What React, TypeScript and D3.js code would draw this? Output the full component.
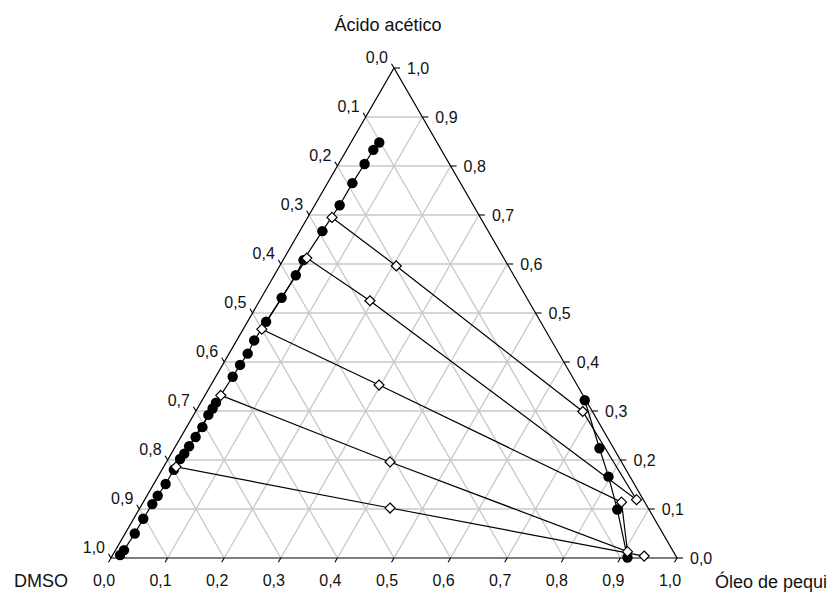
import React, { useEffect, useRef } from 'react'
import * as d3 from 'd3'

// ternary coordinates: oleo (bottom axis), acido (right axis), dmso = 1 - oleo - acido
const binodalLeftOleo = [0.050, 0.047, 0.046, 0.044, 0.044, 0.040, 0.036, 0.038, 0.036, 0.033, 0.031, 0.033, 0.031, 0.030, 0.027, 0.027, 0.026, 0.028, 0.026, 0.024, 0.023, 0.021, 0.021, 0.021, 0.019, 0.018, 0.017, 0.017, 0.015, 0.013]
const binodalLeftAcido = [0.848, 0.833, 0.804, 0.765, 0.720, 0.667, 0.608, 0.577, 0.531, 0.482, 0.444, 0.417, 0.394, 0.370, 0.317, 0.305, 0.292, 0.267, 0.247, 0.228, 0.213, 0.202, 0.180, 0.151, 0.127, 0.110, 0.080, 0.050, 0.016, 0.006]

const binodalRightOleo = [0.676, 0.751, 0.796, 0.845, 0.912]
const binodalRightAcido = [0.322, 0.224, 0.166, 0.099, 0.001]

// tie lines: DMSO-rich end, feed point, oil-rich end
const tieLeftOleo = [0.043, 0.040, 0.033, 0.028, 0.022]
const tieLeftAcido = [0.695, 0.612, 0.467, 0.332, 0.186]
const tieFeedOleo = [0.206, 0.195, 0.297, 0.395, 0.442]
const tieFeedAcido = [0.596, 0.525, 0.353, 0.196, 0.102]
const tieRightOleo = [0.684, 0.869, 0.845, 0.906, 0.940]
const tieRightAcido = [0.299, 0.119, 0.114, 0.013, 0.004]

const tickValues = [0, 0.1, 0.2, 0.3, 0.4, 0.5, 0.6, 0.7, 0.8, 0.9, 1.0]
const tickLabels = ['0,0', '0,1', '0,2', '0,3', '0,4', '0,5', '0,6', '0,7', '0,8', '0,9', '1,0']

const FONT = '"Liberation Sans", Arial, sans-serif'

export default function App() {
  const ref = useRef<SVGSVGElement>(null)

  useEffect(() => {
    const svg = d3.select(ref.current)
    svg.selectAll('*').remove()

    const x = d3.scaleLinear().domain([0, 1]).range([111, 677])
    const y = d3.scaleLinear().domain([0, 1]).range([558, 68])
    const project = (o: number, a: number): [number, number] => [x(o + a / 2), y(a)]
    const line = d3.line<[number, number]>()

    // grid
    const grid = svg.append('g').attr('stroke', '#c8c8c8').attr('stroke-width', 1.3).attr('fill', 'none')
    tickValues.slice(1, -1).forEach(v => {
      grid.append('path').attr('d', line([project(v, 0), project(v, 1 - v)]))
      grid.append('path').attr('d', line([project(0, v), project(1 - v, v)]))
      grid.append('path').attr('d', line([project(1 - v, 0), project(0, 1 - v)]))
    })

    // triangle
    svg.append('path')
      .attr('d', line([project(0, 0), project(1, 0), project(0, 1)]) + 'Z')
      .attr('fill', 'none').attr('stroke', '#000').attr('stroke-width', 1.2)

    // ticks + labels
    const axes = svg.append('g').attr('stroke', '#000').attr('stroke-width', 1.1)
    const labels = svg.append('g').attr('font-family', FONT).attr('font-size', 16).attr('fill', '#111')
    tickValues.forEach((v, i) => {
      // bottom axis (oleo)
      const [bx, by] = project(v, 0)
      axes.append('line').attr('x1', bx).attr('y1', by).attr('x2', bx - 2.5).attr('y2', by + 4.3)
      labels.append('text').attr('x', bx - 7).attr('y', 580).attr('dy', '0.35em')
        .attr('text-anchor', 'middle').text(tickLabels[i])
      // right axis (acido)
      const [rx, ry] = project(1 - v, v)
      axes.append('line').attr('x1', rx).attr('y1', ry).attr('x2', rx + 6).attr('y2', ry)
      labels.append('text').attr('x', rx + 13).attr('y', ry).attr('dy', '0.35em')
        .attr('text-anchor', 'start').text(tickLabels[i])
      // left axis (dmso, 0 at top)
      const [lx, ly] = project(0, 1 - v)
      axes.append('line').attr('x1', lx).attr('y1', ly).attr('x2', lx - 2.5).attr('y2', ly - 4.3)
      labels.append('text').attr('x', lx - 6).attr('y', ly - 11).attr('dy', '0.35em')
        .attr('text-anchor', 'end').text(tickLabels[i])
    })

    // binodal curve
    const leftPts = binodalLeftOleo.map((o, i) => project(o, binodalLeftAcido[i]))
    const rightPts = binodalRightOleo.map((o, i) => project(o, binodalRightAcido[i]))
    svg.append('path').attr('d', line(leftPts)).attr('fill', 'none').attr('stroke', '#000').attr('stroke-width', 1.2)
    svg.append('path').attr('d', line(rightPts)).attr('fill', 'none').attr('stroke', '#000').attr('stroke-width', 1.2)

    // tie lines as one series (zig-zag order)
    const tiePts: [number, number][] = []
    tieLeftOleo.forEach((_, i) => {
      const seg = [
        project(tieLeftOleo[i], tieLeftAcido[i]),
        project(tieFeedOleo[i], tieFeedAcido[i]),
        project(tieRightOleo[i], tieRightAcido[i]),
      ]
      if (i % 2 === 1) seg.reverse()
      tiePts.push(...seg)
    })
    svg.append('path').attr('d', line(tiePts)).attr('fill', 'none').attr('stroke', '#000').attr('stroke-width', 1.2)

    // black dots
    svg.append('g').selectAll('circle')
      .data([...leftPts, ...rightPts])
      .join('circle')
      .attr('cx', d => d[0]).attr('cy', d => d[1]).attr('r', 5.2).attr('fill', '#000')

    // open diamonds
    const diamond = d3.symbol().type(d3.symbolDiamond2).size(64)
    svg.append('g').selectAll('path')
      .data(tiePts)
      .join('path')
      .attr('d', diamond)
      .attr('transform', d => `translate(${d[0]},${d[1]})`)
      .attr('fill', '#fff').attr('stroke', '#000').attr('stroke-width', 1.2)

    // vertex titles
    const titles = svg.append('g').attr('font-family', FONT).attr('font-size', 18).attr('fill', '#111')
    titles.append('text').attr('x', 388).attr('y', 31).attr('text-anchor', 'middle').text('Ácido acético')
    titles.append('text').attr('x', 68).attr('y', 587).attr('text-anchor', 'end').text('DMSO')
    titles.append('text').attr('x', 715).attr('y', 588).attr('text-anchor', 'start').text('Óleo de pequi')
  }, [])

  return (
    <svg ref={ref} width={836} height={593}
      style={{ position: 'absolute', left: 0, top: 0, background: '#fff' }} />
  )
}
